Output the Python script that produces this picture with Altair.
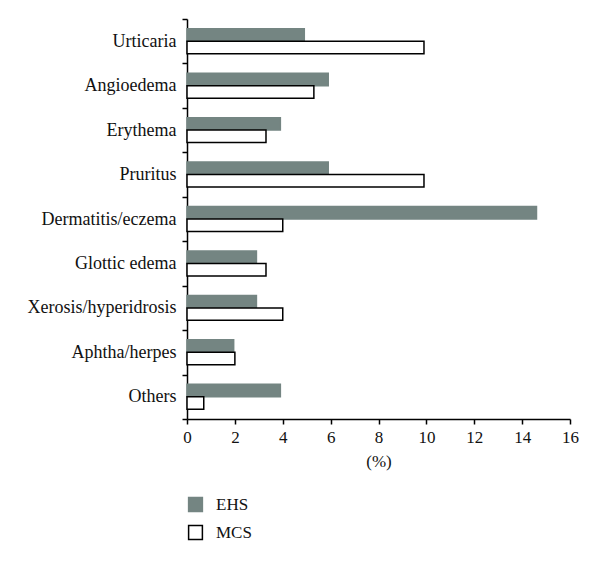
import altair as alt
import pandas as pd

categories = ["Urticaria", "Angioedema", "Erythema", "Pruritus", "Dermatitis/eczema",
              "Glottic edema", "Xerosis/hyperidrosis", "Aphtha/herpes", "Others"]
ehs = [4.9, 5.9, 3.9, 5.9, 14.6, 2.9, 2.9, 1.95, 3.9]
mcs = [9.9, 5.3, 3.3, 9.9, 4.0, 3.3, 4.0, 2.0, 0.7]
series = ["EHS", "MCS"]

rows = []
for c, e, m in zip(categories, ehs, mcs):
    rows.append({"category": c, "group": "EHS", "value": e})
    rows.append({"category": c, "group": "MCS", "value": m})
df = pd.DataFrame(rows)

font = "Liberation Serif"

legend_kw = dict(title=None, orient="none", legendX=0, legendY=477,
                 symbolType="square", symbolSize=190,
                 labelFont=font, labelFontSize=17, labelColor="#111",
                 rowPadding=7, labelOffset=12, symbolStrokeWidth=1.5)

chart = alt.Chart(df).mark_bar(strokeWidth=1.5).encode(
    y=alt.Y("category:N", sort=categories,
            scale=alt.Scale(paddingInner=0, paddingOuter=0),
            axis=alt.Axis(title=None, tickBand="extent", labelFontSize=18,
                          labelFont=font, labelColor="#111", labelPadding=6,
                          tickSize=5, domainColor="black", tickColor="black",
                          domainWidth=1.5, tickWidth=1.5)),
    yOffset=alt.YOffset("group:N", sort=series,
                        scale=alt.Scale(paddingInner=0, paddingOuter=0.78)),
    x=alt.X("value:Q", scale=alt.Scale(domain=[0, 16]),
            axis=alt.Axis(title="(%)", values=list(range(0, 17, 2)), grid=False,
                          labelFontSize=17, labelFont=font, labelColor="#111",
                          titleFont=font, titleFontSize=17, titleFontWeight="normal",
                          titleColor="#111", titlePadding=8, labelPadding=5,
                          tickSize=5, domainColor="black", tickColor="black",
                          domainWidth=1.5, tickWidth=1.5, labelFlush=False)),
    fill=alt.Fill("group:N", sort=series,
                  scale=alt.Scale(domain=series, range=["#748582", "#ffffff"]),
                  legend=alt.Legend(**legend_kw)),
    stroke=alt.Stroke("group:N", sort=series,
                      scale=alt.Scale(domain=series, range=["#748582", "#000000"]),
                      legend=alt.Legend(**legend_kw)),
).properties(
    width=383, height=400, background="white",
    padding={"left": 19, "top": 2, "right": 10, "bottom": 5}
).configure_view(stroke=None)

chart.save("out.html", embed_options={"renderer": "svg", "actions": False})
